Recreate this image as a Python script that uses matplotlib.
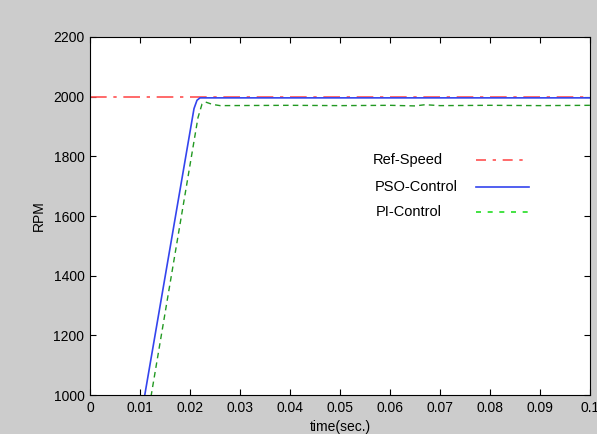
import matplotlib.pyplot as plt

plt.rcParams['font.family'] = ['Liberation Sans', 'DejaVu Sans']

# reference speed
ref_t = [0.0, 0.1]
ref_rpm = [2000, 2000]

# PSO tuned controller
pso_t = [0.0, 0.0007, 0.0208, 0.0214, 0.0220, 0.1]
pso_rpm = [0, 0, 1960, 1988, 1996, 1996]

# PI controller
pi_t = [0.0, 0.0022, 0.0216, 0.0224, 0.0231, 0.0245, 0.026, 0.04, 0.05, 0.06,
        0.065, 0.067, 0.07, 0.08, 0.09, 0.1]
pi_rpm = [0, 0, 1930, 1975, 1982, 1974, 1970, 1971, 1970, 1971,
          1969, 1973, 1970, 1971, 1970, 1971]

labels = ['Ref-Speed', 'PSO-Control', 'PI-Control']
colors = ['#ff5050', '#3344ee', '#229922']

fig = plt.figure(figsize=(5.97, 4.34), dpi=100, facecolor='#cccccc')
ax = fig.add_axes([90 / 597, 1 - 395 / 434, 500 / 597, 358 / 434])

ax.plot(ref_t, ref_rpm, color=colors[0], ls=(0, (10, 4, 2, 4)), lw=1.2)
ax.plot(pso_t, pso_rpm, color=colors[1], lw=1.2)
ax.plot(pi_t, pi_rpm, color=colors[2], ls=(0, (4, 3)), lw=1.0)

ax.set_xlim(0, 0.1)
ax.set_ylim(1000, 2200)
ax.set_xticks([i / 100 for i in range(11)])
ax.set_xticklabels(['0', '0.01', '0.02', '0.03', '0.04', '0.05', '0.06',
                    '0.07', '0.08', '0.09', '0.1'])
ax.set_yticks(range(1000, 2201, 200))
ax.tick_params(direction='in', top=True, right=True, labelsize=10, length=4,
               pad=4)
ax.set_xlabel('time(sec.)', fontsize=10, labelpad=4)
ax.set_ylabel('RPM', fontsize=10, labelpad=5)

# matlab style legend: text left, sample line on the right, no box
leg_styles = [(0, (6, 4, 2, 4)), '-', (0, (3, 4))]
leg_colors = ['#ff5050', '#3344ee', '#22dd22']
leg_y = [0.656, 0.581, 0.511]
leg_x = [0.566, 0.570, 0.572]
for lab, c, s, x, y in zip(labels, leg_colors, leg_styles, leg_x, leg_y):
    ax.text(x, y, lab, transform=ax.transAxes, fontsize=10.5, va='center')
    ax.plot([0.772, 0.878], [y, y], transform=ax.transAxes, color=c, ls=s,
            lw=1.2)

fig.savefig('out.png', dpi=100, facecolor=fig.get_facecolor())
